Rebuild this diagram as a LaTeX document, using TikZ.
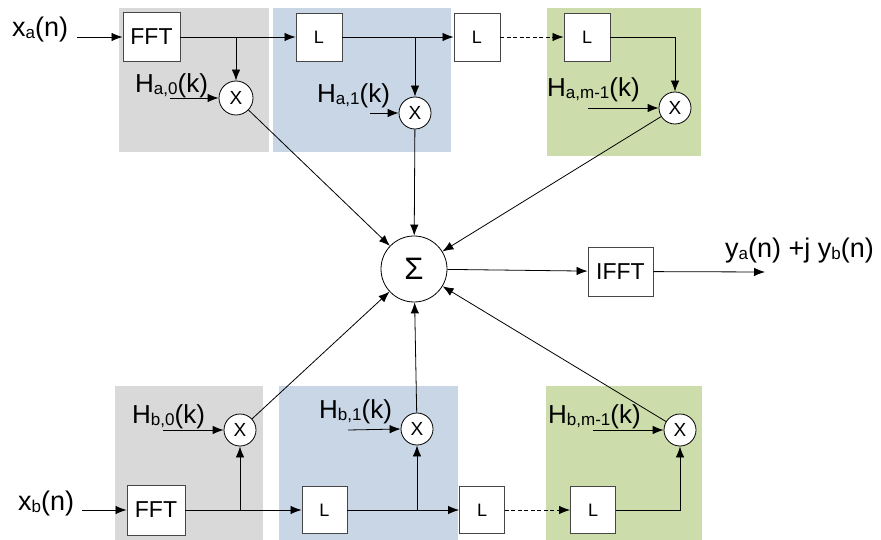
\documentclass[tikz,border=0pt]{standalone}
\usepackage{fontspec}
\setmainfont{Liberation Sans}
\usetikzlibrary{arrows.meta,calc}
\definecolor{bggray}{RGB}{217,217,217}
\definecolor{bgblue}{RGB}{200,214,230}
\definecolor{bggreen}{RGB}{204,220,170}
\definecolor{edge}{RGB}{70,70,70}
\newcommand{\lsub}[1]{\raisebox{-2pt}{\fontsize{17}{17}\selectfont #1}}
\begin{document}
\begin{tikzpicture}[x=1pt,y=-1pt,
  box/.style={draw=edge,line width=0.9pt,fill=white,rectangle,inner sep=0pt,font=\fontsize{23}{23}\selectfont},
  lbox/.style={box,minimum width=46pt,minimum height=48pt,font=\fontsize{18}{18}\selectfont},
  mul/.style={draw=black,line width=0.8pt,fill=white,circle,inner sep=0pt,minimum size=32pt,font=\fontsize{19}{19}\selectfont},
  arr/.style={-{Latex[length=11pt,width=8.5pt]},line width=0.8pt},
  dsh/.style={dash pattern=on 4pt off 2.5pt},
  lab/.style={anchor=base west,inner sep=0pt,font=\fontsize{27}{27}\selectfont},
  hlab/.style={anchor=base west,inner sep=0pt,font=\fontsize{26}{26}\selectfont}]
\useasboundingbox (0,0) rectangle (881,540);
% backgrounds
\fill[bggray] (119,8) rectangle (269,152);
\fill[bgblue] (273,8) rectangle (451,152);
\fill[bggreen] (547,8) rectangle (701,156);
\fill[bggray] (115,386) rectangle (263,540);
\fill[bgblue] (279,386) rectangle (458,540);
\fill[bggreen] (546,386) rectangle (702,540);
% top row
\node[box,minimum width=57pt,minimum height=49pt] (FFTa) at (151.5,37) {FFT};
\node[lbox] (La1) at (319,37) {L};
\node[lbox] (La2) at (477,37) {L};
\node[lbox] (La3) at (587,37) {L};
\node[mul,minimum size=34pt] (Xa0) at (236,98) {X};
\node[mul] (Xa1) at (415,113) {X};
\node[mul] (Xa2) at (675,108) {X};
% sum and ifft
\node[mul,minimum size=66pt,font=\fontsize{31}{31}\selectfont] (Sum) at (414,269) {Σ};
\node[box,minimum width=65pt,minimum height=49pt,font=\fontsize{23}{23}\selectfont] (IFFT) at (620.5,271.5) {IFFT};
% bottom row
\node[box,minimum width=58pt,minimum height=50pt] (FFTb) at (156,510) {FFT};
\node[lbox,minimum width=45pt,minimum height=47pt] (Lb1) at (324.5,510) {L};
\node[lbox,minimum width=45pt,minimum height=47pt] (Lb2) at (482,510) {L};
\node[lbox,minimum width=45pt,minimum height=47pt] (Lb3) at (593,510) {L};
\node[mul] (Xb0) at (240,430) {X};
\node[mul] (Xb1) at (417,429) {X};
\node[mul] (Xb2) at (680,430) {X};
% coordinates
\coordinate (ina) at (77,37);
\coordinate (inb) at (82,510);
\coordinate (ha0) at (170,98);
\coordinate (ha1) at (370,113);
\coordinate (ha2) at (588,108);
\coordinate (hb0) at (163,430);
\coordinate (hb1) at (348,430);
\coordinate (hb2) at (593,430);
\coordinate (out) at (765,272);
% labels
\node[lab] (lxa) at (12,37) {x\lsub{a}(n)};
\node[lab] (lxb) at (18,510) {x\lsub{b}(n)};
\node[hlab] (lha0) at (135,93) {H\lsub{a,0}(k)};
\node[hlab] (lha1) at (317,103) {H\lsub{a,1}(k)};
\node[hlab] (lha2) at (547,97) {H\lsub{a,m-1}(k)};
\node[hlab] (lhb0) at (132,423) {H\lsub{b,0}(k)};
\node[hlab] (lhb1) at (319,418) {H\lsub{b,1}(k)};
\node[hlab] (lhb2) at (548,423) {H\lsub{b,m-1}(k)};
\node[lab] (lout) at (725,258) {y\lsub{a}(n) +j y\lsub{b}(n)};
% top connectors
\draw[arr] (ina) -- (FFTa.west);
\draw[arr] (FFTa.east) -- (La1.west);
\draw[arr] (Xa0 |- FFTa.east) -- (Xa0.north);
\draw[arr] (La1.east) -- (La2.west);
\draw[arr] (Xa1 |- La1.east) -- (Xa1.north);
\draw[arr,dsh] (La2.east) -- (La3.west);
\draw[arr] (La3.east) -| (Xa2.north);
\draw[arr] (ha0) -- (Xa0.west);
\draw[arr] (ha1) -- (Xa1.west);
\draw[arr] (ha2) -- (Xa2.west);
% bottom connectors
\draw[arr] (inb) -- (FFTb.west);
\draw[arr] (FFTb.east) -- (Lb1.west);
\draw[arr] (Xb0 |- FFTb.east) -- (Xb0.south);
\draw[arr] (Lb1.east) -- (Lb2.west);
\draw[arr] (Xb1 |- Lb1.east) -- (Xb1.south);
\draw[arr,dsh] (Lb2.east) -- (Lb3.west);
\draw[arr] (Lb3.east) -| (Xb2.south);
\draw[arr] (hb0) -- (Xb0.west);
\draw[arr] (hb1) -- (Xb1.west);
\draw[arr] (hb2) -- (Xb2.west);
% to sum
\draw[arr] (Xa0) -- (Sum);
\draw[arr] (Xa1) -- (Sum);
\draw[arr] (Xa2) -- (Sum);
\draw[arr] (Xb0) -- (Sum);
\draw[arr] (Xb1) -- (Sum);
\draw[arr] (Xb2) -- (Sum);
\draw[arr] (Sum) -- (IFFT);
\draw[arr] (IFFT) -- (out);
\end{tikzpicture}
\end{document}
